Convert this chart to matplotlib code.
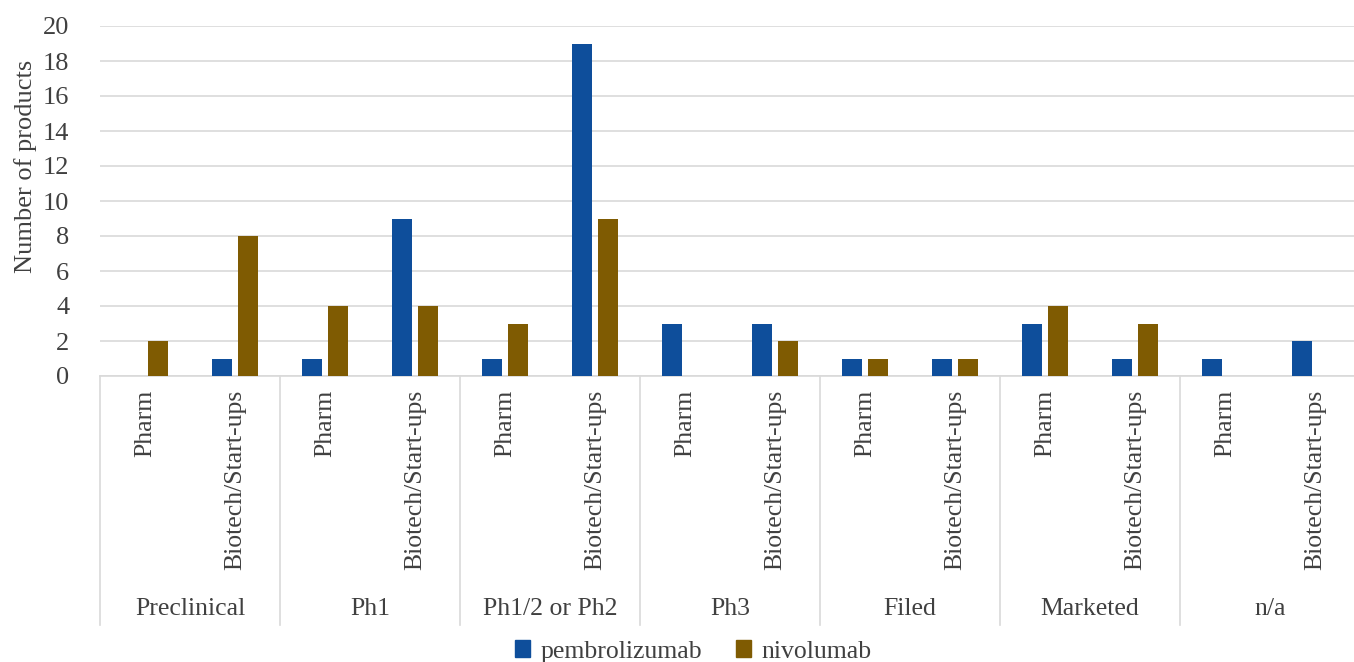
import matplotlib.pyplot as plt
import numpy as np
from matplotlib.patches import Patch

plt.rcParams['font.family'] = 'Liberation Serif'

stages = ["Preclinical", "Ph1", "Ph1/2 or Ph2", "Ph3", "Filed", "Marketed", "n/a"]
companies = ["Pharm", "Biotech/Start-ups"]
pembrolizumab = [0, 1, 1, 9, 1, 19, 3, 3, 1, 1, 3, 1, 1, 2]
nivolumab = [2, 8, 4, 4, 3, 9, 0, 2, 1, 1, 4, 3, 0, 0]

blue = "#0E4E9B"
brown = "#7F5B02"
text_col = "#404040"
grid_col = "#D9D9D9"
fs = 18.5

fig = plt.figure(figsize=(13.54, 6.62), dpi=100)
ax = fig.add_axes([100 / 1354, 286 / 662, 1260 / 1354, 350 / 662])

x = np.arange(len(pembrolizumab))
w = 0.225
ax.bar(x - 0.145, pembrolizumab, width=w, color=blue, zorder=3)
ax.bar(x + 0.145, nivolumab, width=w, color=brown, zorder=3)

ax.set_xlim(-0.5, len(x) - 0.5)
ax.set_ylim(0, 20)
ax.set_yticks(range(0, 21, 2))
ax.yaxis.grid(True, color=grid_col, linewidth=1.2, zorder=0)
ax.tick_params(axis="y", length=0, labelsize=19, labelcolor=text_col, pad=22)
ax.set_ylabel("Number of products", fontsize=19, color=text_col)
ax.yaxis.set_label_coords(-0.05, 0.6)
for s in ["top", "right", "left"]:
    ax.spines[s].set_visible(False)
ax.spines["bottom"].set_color(grid_col)
ax.spines["bottom"].set_linewidth(1.2)

ax.set_xticks(x)
ax.set_xticklabels(companies * len(stages), rotation=90, fontsize=fs, color=text_col, va="top")
ax.tick_params(axis="x", length=0, pad=10)

trans = ax.get_xaxis_transform()
for i in range(len(stages) + 1):
    ax.plot([i * 2 - 0.5, i * 2 - 0.5], [0, -0.712], transform=trans, color=grid_col,
            linewidth=1.2, clip_on=False)
for i, st in enumerate(stages):
    ax.text(i * 2 + 0.5, -0.665, st, transform=trans, ha="center", va="center",
            fontsize=fs, color=text_col)

handles = [Patch(color=blue), Patch(color=brown)]
fig.legend(handles, ["pembrolizumab", "nivolumab"], loc="center", bbox_to_anchor=(0.512, 0.016),
           ncol=2, frameon=False, fontsize=fs, handlelength=0.6, handleheight=0.6,
           handletextpad=0.4, columnspacing=1.3, labelcolor=text_col)

fig.savefig("out.png", dpi=100)
